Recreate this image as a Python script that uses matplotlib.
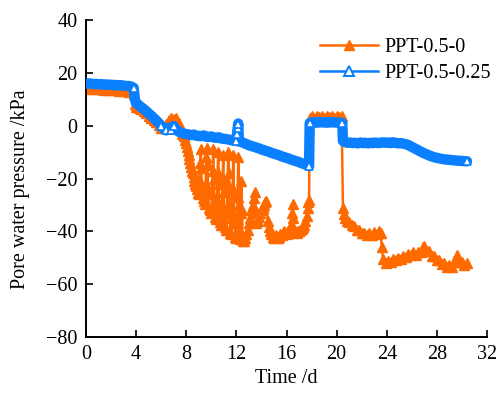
import matplotlib
matplotlib.use("Agg")
import matplotlib.pyplot as plt
from matplotlib.lines import Line2D

# PPT-0.5-0 (time in days, pore water pressure in kPa)
t_a = [0.0, 0.2, 0.4, 0.6, 0.8, 1.0, 1.2, 1.4, 1.6, 1.8, 2.0, 2.2, 2.4, 2.6, 2.8, 3.0,
       3.2, 3.4, 3.6, 3.8, 3.9, 4.0, 4.2, 4.4, 4.6, 4.8, 5.0, 5.2, 5.4, 5.6, 5.8, 6.0,
       6.2, 6.4, 6.6, 6.8, 7.0, 7.2, 7.4, 7.6, 7.7, 7.8, 7.9, 8.0, 8.05, 8.1, 8.2, 8.25,
       8.3, 8.4, 8.45, 8.5, 8.6, 8.65, 8.7, 8.8, 8.85, 8.9, 9.0, 9.05, 9.1, 9.15, 9.2, 9.25,
       9.3, 9.4, 9.5, 9.55, 9.6, 9.65, 9.7, 9.75, 9.8, 9.9, 10.0, 10.05, 10.1, 10.15, 10.2, 10.25,
       10.3, 10.4, 10.45, 10.5, 10.55, 10.6, 10.65, 10.7, 10.8, 10.85, 10.9, 10.95, 11.0, 11.05,
       11.1, 11.2, 11.25, 11.3, 11.35, 11.4, 11.45, 11.5, 11.6, 11.65, 11.7, 11.75, 11.8, 11.85,
       11.9, 12.0, 12.05, 12.1, 12.15, 12.2, 12.25, 12.3, 12.35, 12.4, 12.45, 12.5, 12.6,
       12.7, 12.8, 12.9, 13.0, 13.1, 13.2, 13.3, 13.4, 13.5, 13.55, 13.6, 13.7, 13.8, 13.9,
       14.0, 14.1, 14.2, 14.3, 14.4, 14.5, 14.6, 14.7, 14.8, 14.9, 15.0, 15.1, 15.2, 15.3,
       15.4, 15.5, 15.6, 15.7, 15.8, 15.9, 16.0, 16.1, 16.2, 16.3, 16.4, 16.45, 16.5, 16.55,
       16.6, 16.7, 16.8, 16.9, 17.0, 17.1, 17.2, 17.3, 17.4, 17.5, 17.6, 17.7, 17.75, 17.8,
       17.85, 18.0, 18.2, 18.4, 18.6, 18.8, 19.0, 19.2, 19.4, 19.6, 19.8, 20.0, 20.2, 20.4,
       20.5, 20.6, 20.7, 20.8, 21.0, 21.2, 21.4, 21.6, 21.8, 22.0, 22.2, 22.4, 22.6, 22.8,
       23.0, 23.2, 23.4, 23.5, 23.6, 23.7, 23.9, 24.1, 24.3, 24.5, 24.7, 24.9, 25.1, 25.3,
       25.5, 25.7, 25.9, 26.1, 26.3, 26.5, 26.7, 26.9, 27.0, 27.2, 27.4, 27.6, 27.8, 28.0,
       28.2, 28.4, 28.6, 28.8, 29.0, 29.2, 29.4, 29.6, 29.8, 30.0, 30.2, 30.4]
p_a = [14.8, 14.0, 14.6, 13.8, 14.5, 13.7, 14.4, 13.6, 14.2, 13.5, 14.1, 13.3, 13.9, 13.2, 13.8, 13.1,
       13.7, 12.9, 13.4, 12.0, 8.0, 7.2, 6.8, 6.2, 5.4, 4.6, 3.8, 2.8, 2.0, 1.2, 0.2, -0.8,
       -1.0, 0.5, 2.0, 3.0, 2.6, 2.8, 1.0, -1.5, -3.0, -4.0, -5.5, -6.5, -8.0, -9.5, -11.0, -12.5,
       -14.0, -15.5, -17.0, -18.0, -19.5, -21.0, -22.0, -23.0, -24.0, -25.5, -26.0, -20.0, -14.0, -9.0, -16.0, -24.0,
       -27.5, -28.5, -29.5, -22.0, -12.0, -8.5, -15.0, -25.0, -31.0, -32.0, -33.0, -26.0, -17.0, -9.0, -20.0, -30.0,
       -34.5, -35.5, -28.0, -18.0, -10.0, -22.0, -32.0, -36.5, -37.5, -30.0, -20.0, -11.0, -25.0, -35.0,
       -38.5, -39.5, -32.0, -22.0, -10.0, -18.0, -30.0, -40.5, -41.0, -33.0, -24.0, -11.0, -26.0, -37.0,
       -42.0, -42.5, -35.0, -27.0, -12.0, -30.0, -40.0, -43.0, -33.0, -21.0, -32.0, -43.5, -43.8,
       -42.5, -41.0, -39.5, -37.0, -35.0, -32.0, -30.0, -27.5, -25.0, -33.0, -37.0, -36.0, -34.5, -33.0,
       -32.0, -31.0, -30.0, -29.0, -28.5, -36.0, -38.5, -40.0, -41.0, -42.0, -42.5, -42.0, -41.5, -42.5,
       -42.0, -41.0, -41.5, -40.5, -40.0, -40.5, -41.0, -40.0, -39.5, -38.5, -38.0, -33.0, -29.5, -35.0,
       -39.0, -40.0, -40.5, -40.0, -40.0, -39.5, -39.0, -38.5, -37.5, -36.0, -34.0, -31.0, -29.0, -28.0,
       3.0, 3.7, 3.0, 3.7, 3.1, 3.8, 3.0, 3.7, 3.1, 3.8, 3.0, 3.7, 3.1, 3.5,
       -31.0, -33.5, -35.0, -36.0, -36.5, -37.7, -38.0, -39.3, -39.4, -40.6, -40.5, -41.3, -40.7, -41.5,
       -40.1, -40.9, -39.7, -40.5, -46.0, -50.5, -52.0, -51.2, -51.7, -50.6, -51.0, -49.9, -50.5, -49.2,
       -49.8, -48.4, -49.0, -47.9, -49.1, -47.7, -47.8, -45.9, -45.5, -47.4, -47.5, -49.4, -49.3, -51.0,
       -50.7, -52.5, -52.1, -53.5, -52.7, -53.6, -51.5, -49.0, -51.6, -51.4, -52.7, -52.0]

# PPT-0.5-0.25
t_b = [0.0, 0.2, 0.4, 0.6, 0.8, 1.0, 1.2, 1.4, 1.6, 1.8, 2.0, 2.2, 2.4, 2.6, 2.8, 3.0,
       3.2, 3.4, 3.6, 3.8, 3.9, 4.0, 4.2, 4.4, 4.6, 4.8, 5.0, 5.2, 5.4, 5.6, 5.8, 6.0,
       6.2, 6.4, 6.6, 6.8, 7.0, 7.2, 7.4, 7.6, 7.8, 8.0, 8.2, 8.4, 8.6, 8.8, 9.0, 9.2,
       9.4, 9.6, 9.8, 10.0, 10.2, 10.4, 10.6, 10.8, 11.0, 11.2, 11.4, 11.6, 11.8, 12.0,
       12.05, 12.1, 12.15, 12.2, 12.4, 12.6, 12.8, 13.0, 13.2, 13.4, 13.6, 13.8, 14.0, 14.2,
       14.4, 14.6, 14.8, 15.0, 15.2, 15.4, 15.6, 15.8, 16.0, 16.2, 16.4, 16.6, 16.8, 17.0,
       17.2, 17.4, 17.6, 17.8, 17.85, 18.0, 18.2, 18.4, 18.6, 18.8, 19.0, 19.2, 19.4, 19.6,
       19.8, 20.0, 20.2, 20.45, 20.5, 20.7, 20.9, 21.1, 21.3, 21.5, 21.7, 21.9, 22.1, 22.3,
       22.5, 22.7, 22.9, 23.1, 23.3, 23.5, 23.7, 23.9, 24.1, 24.3, 24.5, 24.7, 24.9, 25.1,
       25.3, 25.5, 25.7, 25.9, 26.1, 26.3, 26.5, 26.7, 26.9, 27.1, 27.3, 27.5, 27.7, 27.9,
       28.1, 28.3, 28.5, 28.7, 28.9, 29.1, 29.3, 29.5, 29.7, 29.9, 30.1, 30.4]
p_b = [15.8, 16.0, 15.9, 15.7, 15.8, 15.6, 15.7, 15.5, 15.6, 15.4, 15.5, 15.3, 15.4, 15.2, 15.3, 15.1,
       15.0, 15.0, 14.8, 14.3, 10.0, 8.5, 7.8, 7.0, 6.3, 5.5, 4.6, 3.8, 2.9, 2.0, 1.0, 0.0,
       -1.2, -1.8, -0.8, -1.6, -0.2, -1.5, -2.3, -2.6, -3.0, -3.2, -3.4, -3.6, -3.4, -3.8, -3.9, -4.0,
       -3.7, -4.2, -4.3, -4.1, -4.5, -4.6, -4.4, -4.9, -5.0, -5.1, -5.3, -5.5, -5.6, -5.8,
       -3.0, -1.0, 0.8, -6.0, -6.2, -6.6, -7.0, -7.4, -7.7, -8.0, -8.3, -8.6, -9.0, -9.3,
       -9.6, -9.9, -10.3, -10.6, -10.9, -11.2, -11.6, -11.9, -12.2, -12.5, -12.9, -13.2, -13.5, -13.8,
       -14.2, -14.5, -14.8, -15.3, 1.0, 1.2, 1.3, 1.1, 1.4, 1.2, 1.3, 1.1, 1.4, 1.2,
       1.3, 1.1, 1.2, 1.0, -5.8, -6.3, -6.5, -6.4, -6.6, -6.5, -6.7, -6.4, -6.6, -6.5,
       -6.7, -6.5, -6.6, -6.4, -6.6, -6.5, -6.3, -6.5, -6.4, -6.6, -6.3, -6.5, -6.7, -6.6,
       -6.8, -7.0, -7.3, -7.8, -8.3, -8.8, -9.3, -9.8, -10.3, -10.7, -11.1, -11.5, -11.8, -12.1,
       -12.3, -12.5, -12.7, -12.8, -12.9, -13.0, -13.1, -13.2, -13.3, -13.3, -13.4, -13.5]
# readings shown with open markers
t_b_marked = [3.8, 6.0, 6.4, 6.8, 7.0, 12.0, 12.05, 12.1, 12.15, 17.8, 17.85, 20.45, 30.4]

x_ticks = [0, 4, 8, 12, 16, 20, 24, 28, 32]
y_ticks = [-80, -60, -40, -20, 0, 20, 40]

orange = "#FF6A00"
blue = "#0A7FFF"

plt.rcParams["font.family"] = ["Liberation Serif", "DejaVu Serif"]
plt.rcParams["font.size"] = 14.5

fig = plt.figure(figsize=(4.97, 3.98), dpi=100)
ax = fig.add_axes([0.173, 0.153, 0.807, 0.797])

ax.plot(t_a, p_a, color=orange, lw=1.8, marker="^", ms=7.6,
        markerfacecolor=orange, markeredgecolor=orange, zorder=2)

mark_idx = [t_b.index(t) for t in t_b_marked]
ax.plot(t_b, p_b, color=blue, lw=7.5, solid_joinstyle="round",
        solid_capstyle="round", zorder=3)
ax.plot(t_b, p_b, color=blue, lw=1.2, marker="^", ms=5.5,
        markerfacecolor="white", markeredgecolor=blue, markeredgewidth=1.2,
        markevery=mark_idx, zorder=4)

ax.set_xlim(0, 32)
ax.set_ylim(-80, 40)
ax.set_xticks(x_ticks)
ax.set_yticks(y_ticks)
ax.set_yticklabels([f"{v}".replace("-", "\u2212") for v in y_ticks])
ax.tick_params(direction="in", length=5, width=1.2, colors="black", pad=6)
for side in ("top", "right"):
    ax.spines[side].set_visible(False)
for side in ("left", "bottom"):
    ax.spines[side].set_linewidth(1.4)

ax.set_xlabel("Time /d", labelpad=3)
ax.set_ylabel("Pore water pressure /kPa")
ax.yaxis.set_label_coords(-0.14, 0.467)

handles = [
    Line2D([], [], color=orange, lw=1.8, marker="^", ms=7,
           markerfacecolor=orange, markeredgecolor=orange),
    Line2D([], [], color=blue, lw=1.8, marker="^", ms=7,
           markerfacecolor="white", markeredgecolor=blue, markeredgewidth=1.4),
]
ax.legend(handles, ["PPT-0.5-0", "PPT-0.5-0.25"], loc="upper right",
          bbox_to_anchor=(1.04, 0.98), frameon=False, handlelength=2.9,
          handletextpad=0.3, labelspacing=0.3, borderaxespad=0.2)

fig.savefig("out.png", dpi=100)
